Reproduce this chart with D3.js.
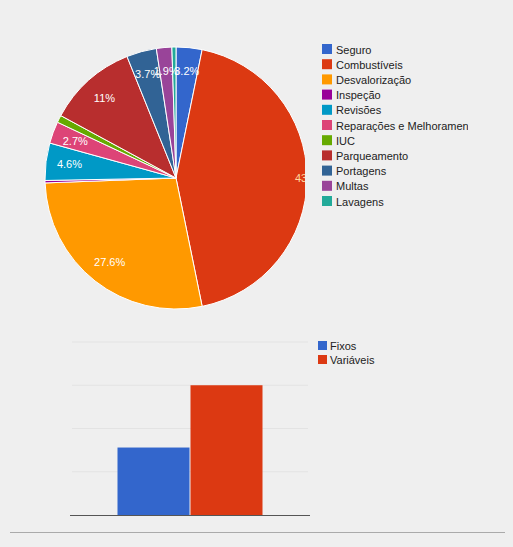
<!DOCTYPE html>
<html>
<head>
<meta charset="utf-8">
<script src="https://cdn.jsdelivr.net/npm/d3@7"></script>
<style>
  body { margin: 0; background: #efefef; }
  svg { display: block; font-family: Arial, "Liberation Sans", sans-serif; }
</style>
</head>
<body>
<svg width="513" height="547"></svg>
<script>
// pie data (percent of total cost)
const categories = ["Seguro", "Combustíveis", "Desvalorização", "Inspeção", "Revisões",
    "Reparações e Melhoramentos", "IUC", "Parqueamento", "Portagens", "Multas", "Lavagens"];
const shares = [3.2, 43.6, 27.6, 0.3, 4.6, 2.7, 0.9, 11.0, 3.7, 1.9, 0.5];
const colors = ["#3366cc", "#dc3912", "#ff9900", "#990099", "#0099c6", "#dd4477",
    "#66aa00", "#b82e2e", "#316395", "#994499", "#22aa99"];

// bar data
const groups = ["Fixos", "Variáveis"];
const totals = [1560, 3000];
const groupColors = ["#3366cc", "#dc3912"];
const yTicks = [0, 1000, 2000, 3000, 4000];

window.addEventListener('load', () => {
    const svg = d3.select("svg");

    // ---- pie ----
    const cx = 176, cy = 178, r = 131;
    svg.append("clipPath").attr("id", "pieclip")
        .append("rect").attr("x", 0).attr("y", 0).attr("width", 305).attr("height", 320);

    const pieG = svg.append("g").attr("clip-path", "url(#pieclip)")
        .append("g").attr("transform", "translate(" + cx + "," + cy + ")");

    const arcs = d3.pie().sort(null)(shares);
    const arc = d3.arc().innerRadius(0).outerRadius(r);

    pieG.selectAll("path")
        .data(arcs)
        .enter().append("path")
        .attr("d", arc)
        .attr("fill", (d, i) => colors[i])
        .attr("stroke", "#ffffff")
        .attr("stroke-width", 1);

    // labels only for slices that are big enough
    const labelArc = d3.arc().innerRadius(r * 0.82).outerRadius(r * 0.82);
    const fmt = v => (v >= 10 && v % 1 === 0 ? v.toFixed(0) : (v === 11 ? "11" : v.toFixed(1))) + "%";
    const maxShare = d3.max(shares);
    pieG.selectAll("text")
        .data(arcs.filter(d => d.data >= 1.5))
        .enter().append("text")
        .attr("transform", d => {
            let [x, y] = labelArc.centroid(d);
            // the big one sits pushed out to the edge, like in the original
            if (d.data === maxShare) { x = r * 0.92 + 14; }
            return "translate(" + x + "," + y + ")";
        })
        .attr("text-anchor", "middle")
        .attr("dy", "0.35em")
        .style("font-size", "11px")
        .attr("fill", d => d.data === maxShare ? "#ffd9a0" : "#ffffff")
        .text(d => d.data === 11 ? "11%" : d.data.toFixed(1) + "%");

    // pie legend
    svg.append("clipPath").attr("id", "legclip")
        .append("rect").attr("x", 300).attr("y", 0).attr("width", 168).attr("height", 320);
    const leg = svg.append("g").attr("clip-path", "url(#legclip)");
    const legItems = leg.selectAll("g")
        .data(categories)
        .enter().append("g")
        .attr("transform", (d, i) => "translate(322," + (44 + i * 15.2) + ")");
    legItems.append("rect").attr("width", 10).attr("height", 10)
        .attr("fill", (d, i) => colors[i]);
    legItems.append("text").attr("x", 14).attr("y", 9.5)
        .style("font-size", "11px").attr("fill", "#222222")
        .text(d => d);

    // ---- bars ----
    const bx0 = 72, bx1 = 308, by0 = 342, by1 = 515;
    const xScale = d3.scaleBand().domain(groups).range([117, 263]).padding(0);
    const yScale = d3.scaleLinear().domain([0, 4000]).range([by1, by0]);

    svg.append("g").selectAll("line")
        .data(yTicks.slice(1))
        .enter().append("line")
        .attr("x1", bx0).attr("x2", bx1)
        .attr("y1", d => yScale(d)).attr("y2", d => yScale(d))
        .attr("stroke", "#e3e3e3").attr("stroke-width", 1);

    svg.append("g").selectAll("rect")
        .data(totals)
        .enter().append("rect")
        .attr("x", (d, i) => xScale(groups[i]) + 0.5)
        .attr("width", xScale.bandwidth() - 1)
        .attr("y", d => yScale(d))
        .attr("height", d => by1 - yScale(d))
        .attr("fill", (d, i) => groupColors[i]);

    svg.append("line")
        .attr("x1", 70).attr("x2", 310)
        .attr("y1", by1 + 0.5).attr("y2", by1 + 0.5)
        .attr("stroke", "#555555");

    // bar legend
    const bleg = svg.append("g").selectAll("g")
        .data(groups)
        .enter().append("g")
        .attr("transform", (d, i) => "translate(318," + (341 + i * 14) + ")");
    bleg.append("rect").attr("width", 9).attr("height", 9)
        .attr("fill", (d, i) => groupColors[i]);
    bleg.append("text").attr("x", 12).attr("y", 8.5)
        .style("font-size", "11px").attr("fill", "#222222")
        .text(d => d);

    // bottom rule
    svg.append("line")
        .attr("x1", 10).attr("x2", 505).attr("y1", 532.5).attr("y2", 532.5)
        .attr("stroke", "#aaaaaa");
});
</script>
</body>
</html>
